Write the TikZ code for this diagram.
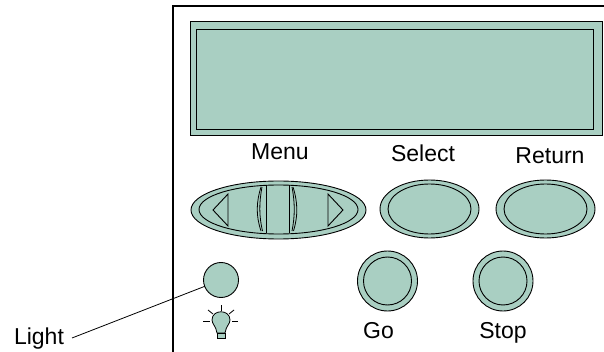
\documentclass[tikz,border=0pt]{standalone}
\usepackage{fontspec}
\setmainfont{Liberation Sans}
\usetikzlibrary{shapes.geometric}
\definecolor{panel}{HTML}{A9CFC2}
\tikzset{
  part/.style={draw=black,fill=panel,line width=0.9pt},
  btnoval/.style={ellipse,part,inner sep=0pt,outer sep=0pt,minimum width=#1},
  btnround/.style={circle,part,inner sep=0pt,outer sep=0pt,minimum size=#1},
  lbl/.style={inner sep=0pt,anchor=base,font=\fontsize{23}{27}\selectfont,text=black}
}
\begin{document}
\begin{tikzpicture}[x=1pt,y=-1pt]
\useasboundingbox (0,0) rectangle (604,352);
\draw[line width=2.6pt] (606,6) -- (173,6) -- (173,354);
\node[draw=black,fill=panel,line width=1pt,minimum width=412pt,minimum height=114pt,inner sep=0pt,outer sep=0pt] (display) at (396,79) {};
\node[draw=black,fill=panel,line width=1pt,minimum width=397pt,minimum height=100pt,inner sep=0pt,outer sep=0pt] (screen) at (394.5,80) {};
\node[lbl] (menu) at (280,160) {Menu};
\node[lbl] (select) at (423,162) {Select};
\node[lbl] (return) at (550,164) {Return};
\node[btnoval=175pt,minimum height=58pt] (menuouter) at (278.5,210) {};
\node[btnoval=159pt,minimum height=49pt] (menuinner) at (278.5,209.5) {};
\draw[part,line join=miter] (228,194) -- (213,210) -- (228,226) -- cycle;
\draw[part,line join=miter] (328,194) -- (343,210) -- (328,226) -- cycle;
\draw[line width=0.8pt] (261,187) .. controls (256,203) and (256,216) .. (261,231);
\draw[line width=0.8pt] (262,187) .. controls (259,203) and (259,216) .. (262.5,231);
\draw[line width=0.8pt] (266,185) -- (266,233);
\draw[line width=0.8pt] (289,185) -- (289,233);
\draw[line width=0.8pt] (292,187) .. controls (295,203) and (295,216) .. (292,231);
\draw[line width=0.8pt] (293,187) .. controls (298,203) and (298,216) .. (293.5,231);
\node[btnoval=99pt,minimum height=58pt] (selectouter) at (429.5,209) {};
\node[btnoval=83pt,minimum height=50pt] (selectinner) at (429.5,209) {};
\node[btnoval=99pt,minimum height=58pt] (returnouter) at (545.5,209) {};
\node[btnoval=83pt,minimum height=50pt] (returninner) at (545.5,209) {};
\node[btnround=60pt] (goouter) at (387.5,281) {};
\node[btnround=48pt] (goinner) at (387.5,281) {};
\node[btnround=60pt] (stopouter) at (503,281) {};
\node[btnround=48pt] (stopinner) at (503,281) {};
\node[btnround=35pt] (light) at (221,280) {};
\node[lbl] (go) at (378.5,338) {Go};
\node[lbl] (stop) at (503,338) {Stop};
\node[lbl] (lighttext) at (39,344) {Light};
\coordinate (leaderstart) at (72,338);
\draw[line width=0.8pt] (leaderstart) -- (light);
% bulb
\draw[part,line width=0.8pt] (217,333) .. controls (216,326) and (212,324) .. (212,320) .. controls (212,309) and (230,309) .. (230,320) .. controls (230,324) and (226,326) .. (225,333) -- cycle;
\draw[part,line width=0.8pt] (217,333) rectangle (225,338);
\draw[line width=0.8pt] (221,305) -- (221,311);
\draw[line width=0.8pt] (208,310) -- (213,314);
\draw[line width=0.8pt] (234,310) -- (229,314);
\draw[line width=0.8pt] (203,321) -- (210,321);
\draw[line width=0.8pt] (232,321) -- (238,321);
\end{tikzpicture}
\end{document}
